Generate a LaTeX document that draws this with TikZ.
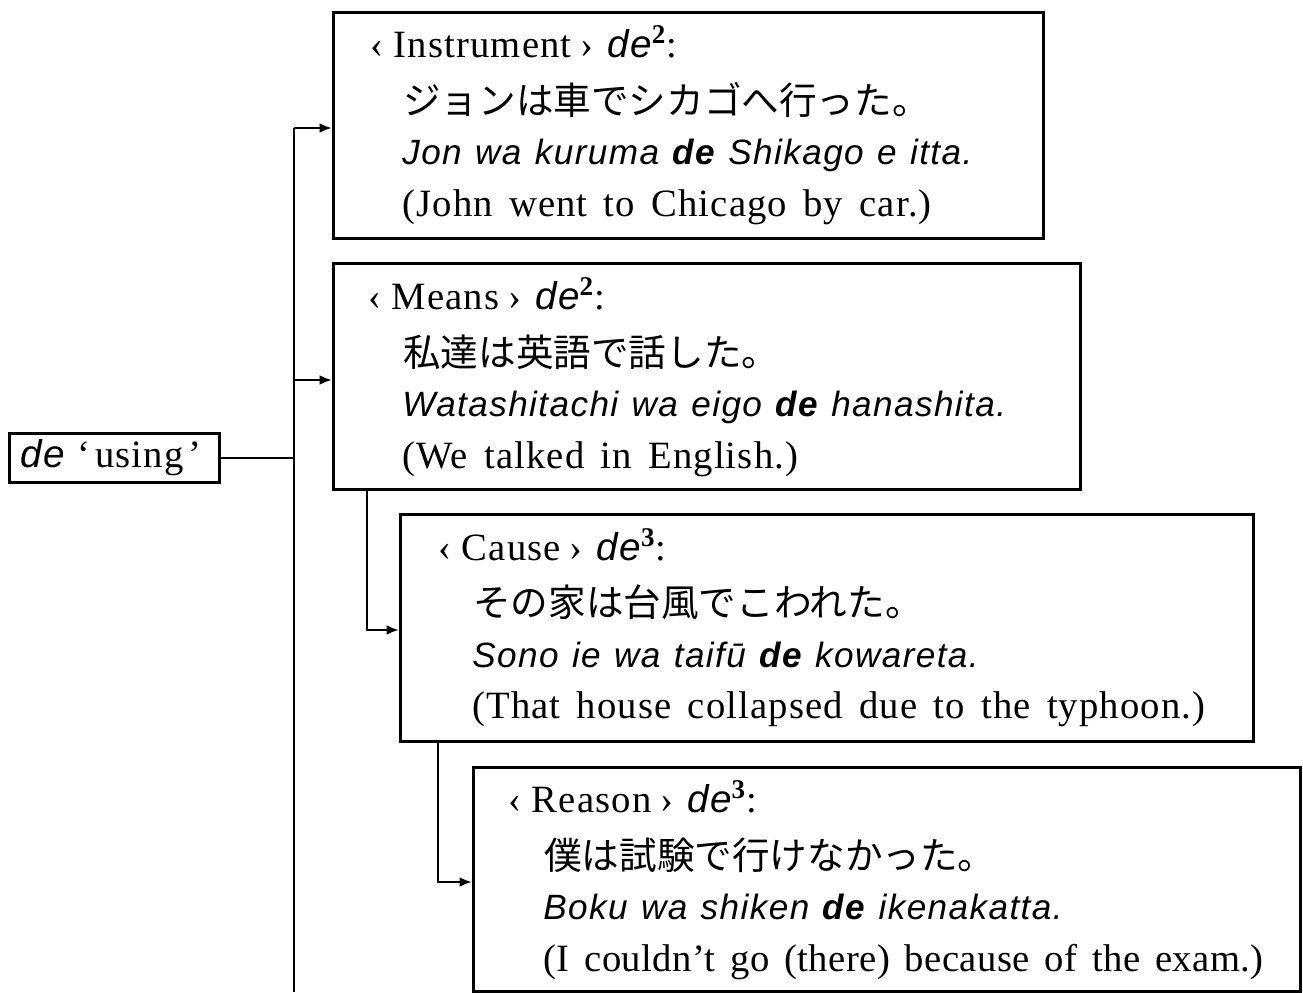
\documentclass[tikz,border=0pt]{standalone}
\usepackage{fontspec}
\setmainfont{Liberation Serif}[LetterSpace=3,WordSpace=1.5]
\newfontfamily\rom{Liberation Sans}[LetterSpace=4,WordSpace=1.2]
\newfontfamily\jp{Noto Sans CJK JP}
\usetikzlibrary{arrows.meta}
\newcommand{\dei}{{\rom\itshape de}}
\newcommand{\deb}{{\bfseries de}}
\newcommand{\hdr}[2]{‹\hspace{6pt}#1\hspace{5pt}›\hspace{8pt}\dei\textsuperscript{\bfseries #2}:}
\begin{document}
\begin{tikzpicture}[x=0.02cm,y=-0.02cm,
  box/.style={draw, line width=1.6pt, inner sep=0pt, anchor=north west},
  txt/.style={inner sep=0pt, anchor=base west, font=\fontsize{22}{26}\selectfont},
  jtxt/.style={txt, font=\fontsize{21.4}{26}\selectfont\jp},
  rtxt/.style={txt, font=\fontsize{20}{26}\selectfont\rom\itshape},
  conn/.style={line width=1.3pt},
  arr/.style={conn, -{Latex[length=7pt,width=5.5pt]}}]
\useasboundingbox (0,0) rectangle (1303,992);
% boxes
\node[box, minimum width=4.2cm, minimum height=0.98cm] (d) at (8,432) {};
\node[box, minimum width=14.2cm, minimum height=4.52cm] (b1) at (332,11) {};
\node[box, minimum width=14.94cm, minimum height=4.52cm] (b2) at (332,262) {};
\node[box, minimum width=17.06cm, minimum height=4.54cm] (b3) at (399,513) {};
\node[box, minimum width=16.54cm, minimum height=4.48cm] (b4) at (472,766) {};
% de box text
\node[txt] (dl) at (20,467) {\dei\hspace{7pt}‘\hspace{3pt}using\hspace{3pt}’};
% box 1
\node[txt] (l11) at (370,57) {\hdr{Instrument}{2}};
\node[jtxt] (l12) at (403,114) {ジョンは車でシカゴへ行った。};
\node[rtxt] (l13) at (402,164) {Jon wa kuruma \deb\ Shikago e itta.};
\node[txt] (l14) at (402,216) {(John went to Chicago by car.)};
% box 2
\node[txt] (l21) at (368,309) {\hdr{Means}{2}};
\node[jtxt] (l22) at (403,366) {私達は英語で話した。};
\node[rtxt] (l23) at (402,416) {Watashitachi wa eigo \deb\ hanashita.};
\node[txt] (l24) at (402,468) {(We talked in English.)};
% box 3
\node[txt] (l31) at (438,560) {\hdr{Cause}{3}};
\node[jtxt] (l32) at (473,616) {その家は台風でこわれた。};
\node[rtxt] (l33) at (472,667) {Sono ie wa taifū \deb\ kowareta.};
\node[txt] (l34) at (472,718) {(That house collapsed due to the typhoon.)};
% box 4
\node[txt] (l41) at (508,812) {\hdr{Reason}{3}};
\node[jtxt] (l42) at (544,869) {僕は試験で行けなかった。};
\node[rtxt] (l43) at (543,919) {Boku wa shiken \deb\ ikenakatta.};
\node[txt] (l44) at (543,971) {\addfontfeature{LetterSpace=1}(I couldn’t go (there) because of the exam.)};
% connectors
\coordinate (t1) at (294,128);
\coordinate (t2) at (294,380);
\coordinate (tb) at (294,992);
\coordinate (m) at (367,488);
\coordinate (a3) at (399,630);
\coordinate (c) at (438,740);
\coordinate (a4) at (472,882);
\draw[conn] (d.east) -- (d.east -| t1);
\draw[conn] (t1) -- (tb);
\draw[arr] (t1) -- (t1 -| b1.west);
\draw[arr] (t2) -- (t2 -| b2.west);
\draw[arr] (m) |- (a3);
\draw[arr] (c) |- (a4);
\end{tikzpicture}
\end{document}
